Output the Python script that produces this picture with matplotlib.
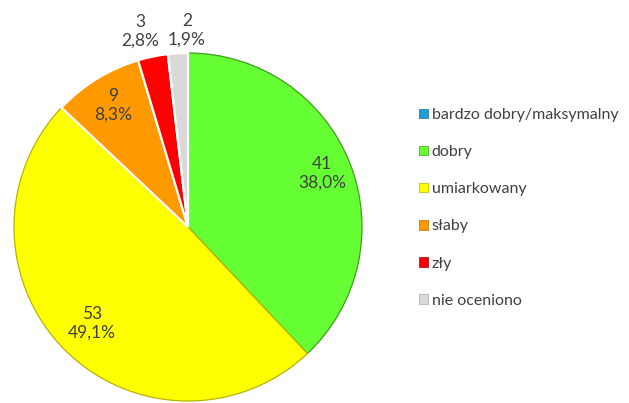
import numpy as np
import matplotlib
matplotlib.use("Agg")
import matplotlib.pyplot as plt
from matplotlib.patches import Patch

plt.rcParams['font.family'] = ['Lato', 'DejaVu Sans']

categories = ["bardzo dobry/maksymalny", "dobry", "umiarkowany", "słaby", "zły", "nie oceniono"]
counts = [0, 41, 53, 9, 3, 2]
percent_labels = ["0,0%", "38,0%", "49,1%", "8,3%", "2,8%", "1,9%"]

colors = ["#1E9FD8", "#66FF33", "#FFFF00", "#FF9900", "#FF0000", "#D9D9D9"]
edges = ["#136C94", "#3E9E1E", "#B5B500", "#B56A00", "#A00000", "#A8A8A8"]

# label placement: radius (in pie radii) and small horizontal nudge (data units)
label_radius = [0.8, 0.83, 0.78, 0.82, 1.15, 1.13]
label_dx = [0.0, 0.0, 0.0, 0.0, -0.04, 0.06]

W, H = 629, 403
fig = plt.figure(figsize=(W / 100, H / 100), dpi=100)
cx, cy, R = 188, 227, 174
ax = fig.add_axes([(cx - R) / W, (H - cy - R) / H, 2 * R / W, 2 * R / H])
ax.axis("off")

wedges, _ = ax.pie(counts, colors=colors, startangle=90, counterclock=False,
                   radius=1.0, wedgeprops=dict(linewidth=0.9))
ax.set_xlim(-1, 1)
ax.set_ylim(-1, 1)
ax.set_aspect("equal")

for w, ec in zip(wedges, edges):
    w.set_edgecolor(ec)
# thin white gaps between the small slices
for w in wedges[3:]:
    w.set_edgecolor("white")
    w.set_linewidth(1.6)

for i, w in enumerate(wedges):
    if counts[i] == 0:
        continue
    ang = np.deg2rad((w.theta1 + w.theta2) / 2)
    r = label_radius[i]
    x = r * np.cos(ang) + label_dx[i]
    y = r * np.sin(ang)
    ax.text(x, y, f"{counts[i]}\n{percent_labels[i]}", ha="center", va="center",
            fontsize=12.5, color="#404040", linespacing=1.2, clip_on=False)

handles = [Patch(facecolor=c, edgecolor=e, linewidth=0.5) for c, e in zip(colors, edges)]
fig.legend(handles, categories, loc="upper left", bbox_to_anchor=(419 / W, 1 - 108 / H),
           frameon=False, fontsize=11.5, handlelength=0.55, handleheight=0.55,
           handletextpad=0.25, labelspacing=1.45, labelcolor="#404040",
           borderpad=0, borderaxespad=0)

fig.savefig("out.png", dpi=100)
